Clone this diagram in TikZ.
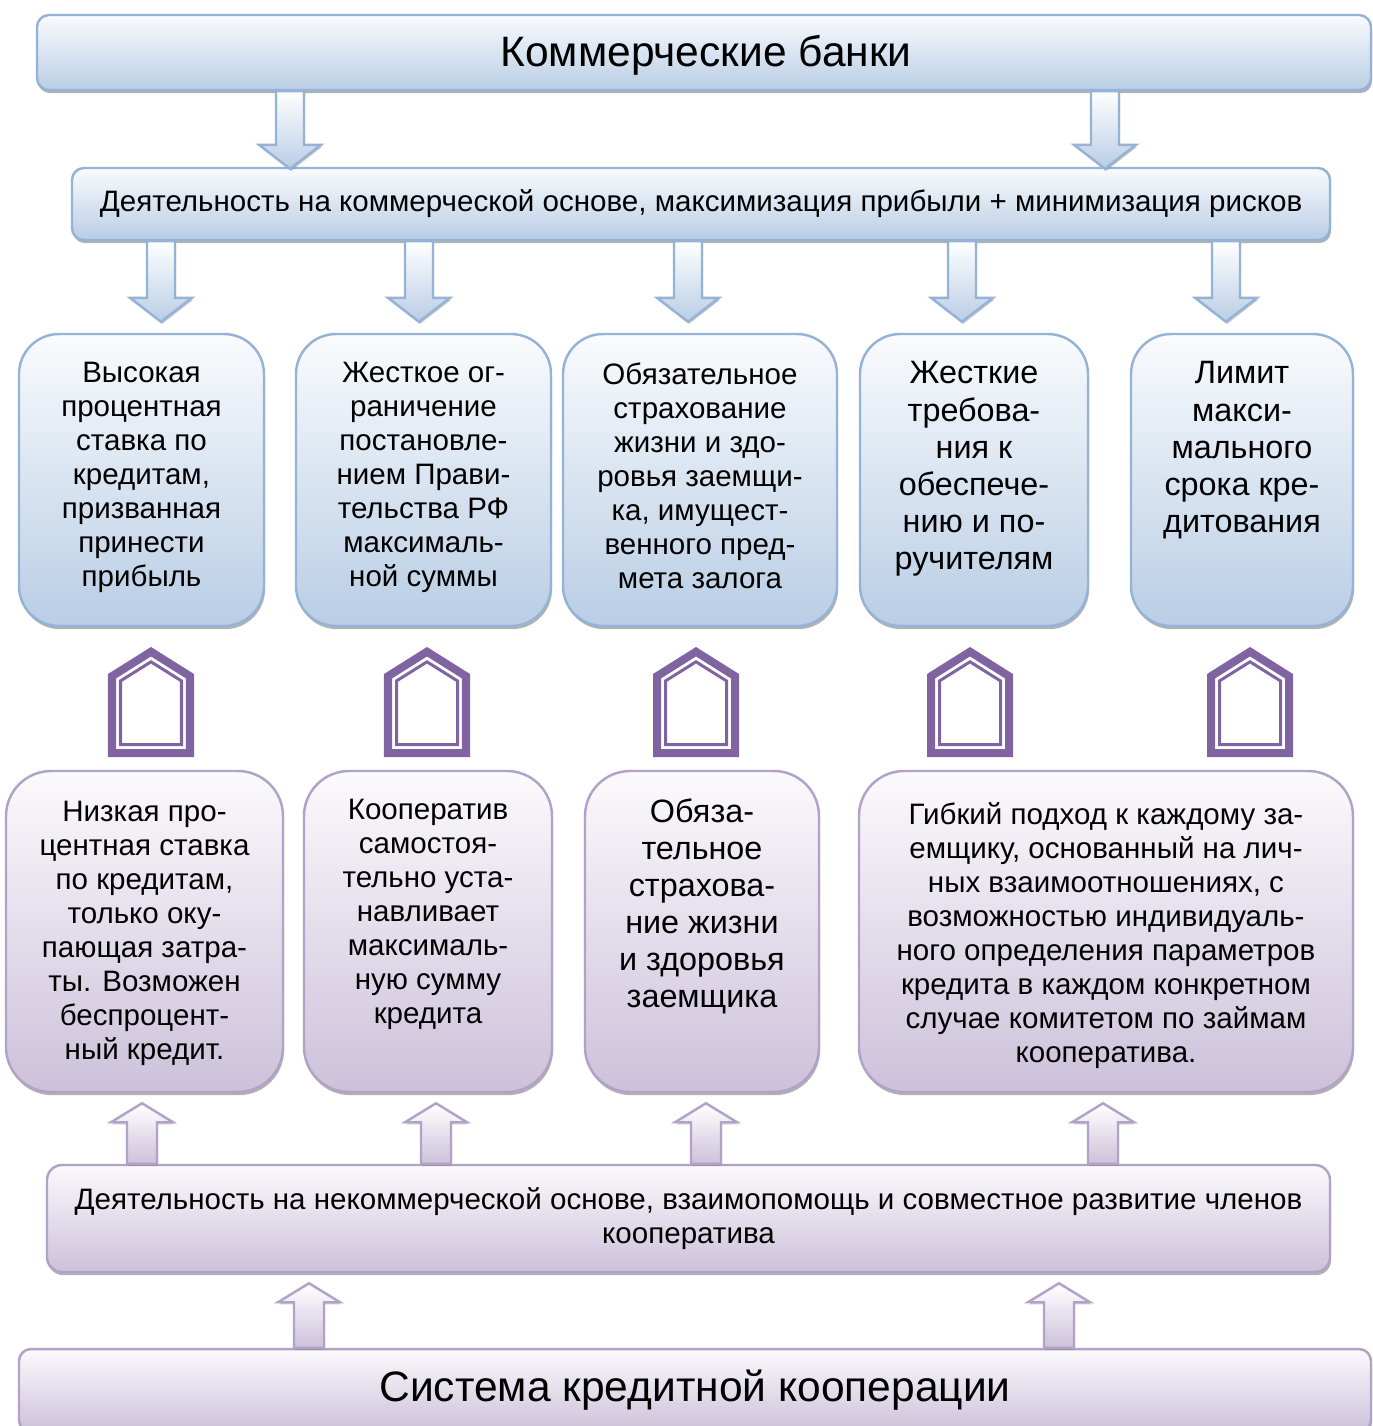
\documentclass[tikz,border=0pt]{standalone}
\usepackage{fontspec}
\setmainfont{Liberation Sans}
\usetikzlibrary{calc,shadows}

\definecolor{bankline}{HTML}{95B3D7}
\definecolor{bankfill}{HTML}{B9CDE5}
\definecolor{coopline}{HTML}{B3A2C7}
\definecolor{coopfill}{HTML}{CCC1DA}
\definecolor{housepurple}{HTML}{8064A2}

\tikzset{
  roundbox/.style={draw, line width=0.7pt, inner sep=0pt, align=center,
    drop shadow={shadow xshift=0.3pt, shadow yshift=-0.9pt, fill=black!60, opacity=0.5}},
  bankbox/.style={roundbox, draw=bankline, top color=bankfill!8, bottom color=bankfill},
  coopbox/.style={roundbox, draw=coopline, top color=coopfill!8, bottom color=coopfill},
  boxsize/.style 2 args={minimum width=#1*0.01cm, minimum height=#2*0.01cm},
  body/.style={font=\fontsize{8.4}{9.67}\selectfont},
  bigbody/.style={font=\fontsize{9.2}{10.55}\selectfont},
  title/.style={font=\fontsize{12.1}{14}\selectfont},
  txt/.style={anchor=north, align=center, inner sep=0pt},
  blockarrow/.style={draw=#1line, line width=0.7pt, top color=white, bottom color=#1fill,
    drop shadow={shadow xshift=0.3pt, shadow yshift=-0.6pt, fill=black!55, opacity=0.4}},
  house/.pic={
    \draw[housepurple, line width=0.08cm, miter limit=10]
      (-39,-4) -- (39,-4) -- (39,-80.8) -- (0,-105.3) -- (-39,-80.8) -- cycle;
    \draw[housepurple, line width=0.03cm, miter limit=10]
      (-30.5,-12.5) -- (30.5,-12.5) -- (30.5,-76.1) -- (0,-95.2) -- (-30.5,-76.1) -- cycle;
  }
}

% down arrow: x, upper node, lower node, tip offset
\newcommand\bankarrow[4]{%
  \coordinate (ax) at (#1,0);
  \path (#2.south -| ax) coordinate (as) (#3.north -| ax) coordinate (ae);
  \path[blockarrow=bank] ($(as)+(-14,0)$) -- ($(as)+(14,0)$) -- ($(ae)+(14,#4-24)$)
    -- ($(ae)+(31,#4-24)$) -- ($(ae)+(0,#4)$) -- ($(ae)+(-31,#4-24)$)
    -- ($(ae)+(-14,#4-24)$) -- cycle;
}
% up arrow: x, lower node, upper node
\newcommand\cooparrow[3]{%
  \coordinate (ax) at (#1,0);
  \path (#2.north -| ax) coordinate (as) (#3.south -| ax) coordinate (ae);
  \path[blockarrow=coop] ($(as)+(-15,0)$) -- ($(as)+(15,0)$) -- ($(ae)+(15,29)$)
    -- ($(ae)+(31,29)$) -- ($(ae)+(0,10)$) -- ($(ae)+(-31,29)$)
    -- ($(ae)+(-15,29)$) -- cycle;
}

\begin{document}
\begin{tikzpicture}[x=0.01cm, y=-0.01cm]
\clip (0,0) rectangle (1373,1426);

% Commercial banks
\node[bankbox, boxsize={1334}{75}, rounded corners=0.12cm] (bank) at (704,52.5) {};
\node[title] (banktext) at (706,55) {Коммерческие банки};
\node[bankbox, boxsize={1258}{72}, rounded corners=0.12cm, body] (commerce) at (701,204)
  {Деятельность на коммерческой основе, максимизация прибыли + минимизация рисков};

\node[bankbox, boxsize={245}{292}, rounded corners=0.4cm] (b1) at (141.5,480) {};
\node[bankbox, boxsize={255}{292}, rounded corners=0.4cm] (b2) at (423.5,480) {};
\node[bankbox, boxsize={274}{292}, rounded corners=0.4cm] (b3) at (700,480) {};
\node[bankbox, boxsize={228}{292}, rounded corners=0.4cm] (b4) at (974,480) {};
\node[bankbox, boxsize={222}{292}, rounded corners=0.4cm] (b5) at (1242,480) {};

\node[txt, body] (t1) at (141.5,361) {Высокая\\процентная\\ставка по\\кредитам,\\призванная\\принести\\прибыль};
\node[txt, body] (t2) at (423.5,361) {Жесткое ог-\\раничение\\постановле-\\нием Прави-\\тельства РФ\\максималь-\\ной суммы};
\node[txt, body] (t3) at (700,362) {Обязательное\\страхование\\жизни и здо-\\ровья заемщи-\\ка, имущест-\\венного пред-\\мета залога};
\node[txt, bigbody] (t4) at (974,361) {Жесткие\\требова-\\ния к\\обеспече-\\нию и по-\\ручителям};
\node[txt, bigbody] (t5) at (1242,361) {Лимит\\макси-\\мального\\срока кре-\\дитования};

\bankarrow{290}{bank}{commerce}{2}
\bankarrow{1105}{bank}{commerce}{2}
\bankarrow{161}{commerce}{b1}{-11}
\bankarrow{419}{commerce}{b2}{-11}
\bankarrow{688}{commerce}{b3}{-11}
\bankarrow{962}{commerce}{b4}{-11}
\bankarrow{1226}{commerce}{b5}{-11}

% Houses
\foreach \hx in {151,427,696,970,1250}
  \pic at (\hx,757) {house};

% Credit cooperation
\node[coopbox, boxsize={277}{321}, rounded corners=0.45cm] (c1) at (144.5,931.5) {};
\node[coopbox, boxsize={248}{321}, rounded corners=0.45cm] (c2) at (428,931.5) {};
\node[coopbox, boxsize={234}{321}, rounded corners=0.45cm] (c3) at (702,931.5) {};
\node[coopbox, boxsize={494}{321}, rounded corners=0.45cm] (c4) at (1106,931.5) {};

\node[txt, body] (s1) at (144.5,800) {Низкая про-\\центная ставка\\по кредитам,\\только оку-\\пающая затра-\\ты. Возможен\\беспроцент-\\ный кредит.};
\node[txt, body] (s2) at (428,798) {Кооператив\\самостоя-\\тельно уста-\\навливает\\максималь-\\ную сумму\\кредита};
\node[txt, bigbody] (s3) at (702,798) {Обяза-\\тельное\\страхова-\\ние жизни\\и здоровья\\заемщика};
\node[txt, body] (s4) at (1106,802) {Гибкий подход к каждому за-\\емщику, основанный на лич-\\ных взаимоотношениях, с\\возможностью индивидуаль-\\ного определения параметров\\кредита в каждом конкретном\\случае комитетом по займам\\кооператива.};

\node[coopbox, boxsize={1283}{107}, rounded corners=0.15cm, body] (noncommerce) at (688.5,1218.5)
  {Деятельность на некоммерческой основе, взаимопомощь и совместное развитие членов\\кооператива};
\node[coopbox, boxsize={1352}{83}, rounded corners=0.12cm, title] (coop) at (695,1390.5) {Система кредитной кооперации};

\cooparrow{142}{noncommerce}{c1}
\cooparrow{436}{noncommerce}{c2}
\cooparrow{706}{noncommerce}{c3}
\cooparrow{1103}{noncommerce}{c4}
\cooparrow{309}{coop}{noncommerce}
\cooparrow{1059}{coop}{noncommerce}
\end{tikzpicture}
\end{document}
